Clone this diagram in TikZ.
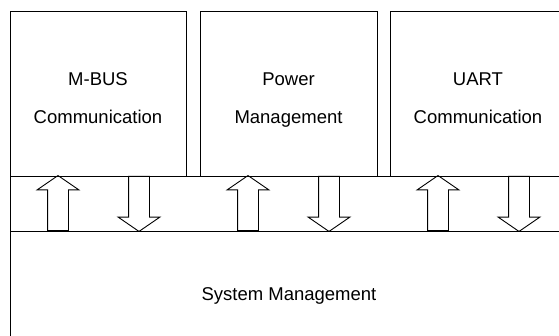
\documentclass[tikz,border=0pt]{standalone}
\usepackage{fontspec}
\setmainfont{Liberation Sans}
\usetikzlibrary{shapes.arrows, positioning}

\tikzset{
	module/.style={draw, line width=0.9pt, inner sep=0pt},
	caption/.style={align=center, inner sep=0pt, text depth=4pt, font=\fontsize{18.5}{38}\selectfont},
	busarrow/.style={draw, line width=0.9pt, single arrow, inner sep=10pt, minimum height=55pt,
		single arrow head extend=10.5pt, single arrow tip angle=111, anchor=tail}
}

\begin{document}
\begin{tikzpicture}[x=1pt, y=-1pt]
	\useasboundingbox (0,0) rectangle (559,336);
	\clip (0,0) rectangle (559,336);
	% modules on top
	\node[module, minimum width=176pt, minimum height=165pt] (mbus) at (98,93.5) {};
	\node[module, minimum width=177pt, minimum height=165pt] (power) at (288.5,93.5) {};
	\node[module, minimum width=176pt, minimum height=165pt] (uart) at (478,93.5) {};
	\node[caption] (mbustxt) at ([yshift=-7pt]mbus.center) {M-BUS\\Communication};
	\node[caption] (powertxt) at ([yshift=-7pt]power.center) {Power\\Management};
	\node[caption] (uarttxt) at ([yshift=-7pt]uart.center) {UART\\Communication};
	% bus band and system box
	\node[module, minimum width=560pt, minimum height=55pt] (bus) at (290,203.5) {};
	\node[module, minimum width=558pt, minimum height=130pt, font=\fontsize{18.5}{38}\selectfont] (sys) at (289,296) {System Management};
	% arrows between modules and system
	\node[busarrow, rotate=90] (up1) at (58,231) {};
	\node[busarrow, rotate=-90] (dn1) at (139,176) {};
	\node[busarrow, rotate=90] (up2) at (248,231) {};
	\node[busarrow, rotate=-90] (dn2) at (329,176) {};
	\node[busarrow, rotate=90] (up3) at (438,231) {};
	\node[busarrow, rotate=-90] (dn3) at (519,176) {};
\end{tikzpicture}
\end{document}
